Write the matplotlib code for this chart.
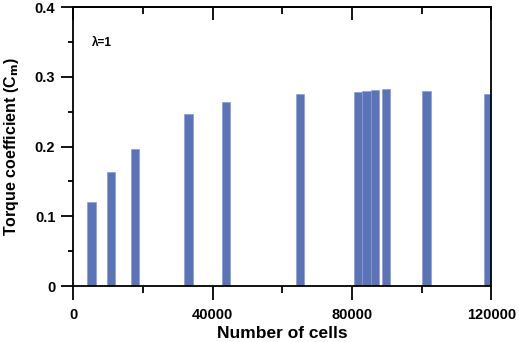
import matplotlib
matplotlib.use("Agg")
from matplotlib import pyplot as plt
from matplotlib.ticker import MultipleLocator

plt.rcParams['font.family'] = ['Liberation Sans', 'DejaVu Sans']
plt.rcParams['font.weight'] = 'bold'

# mesh size vs torque coefficient
cells = [5200, 10900, 17700, 33000, 43900, 65000, 81700, 84100, 86500, 89700, 101400, 119100]
cm = [0.120, 0.163, 0.196, 0.246, 0.264, 0.275, 0.278, 0.279, 0.281, 0.282, 0.279, 0.276]
xticks = [0, 40000, 80000, 120000]
yticks = [0, 0.1, 0.2, 0.3, 0.4]
yticklabels = ['0', '0.1', '0.2', '0.3', '0.4']

fig = plt.figure(figsize=(5.19, 3.42), dpi=100)
ax = fig.add_axes([0.1413, 0.1637, 0.8057, 0.8158])

ax.bar(cells, cm, width=2400, color='#5b74b7', edgecolor='#8b9ccd', linewidth=0.5, zorder=2)

ax.set_xlim(0, 120000)
ax.set_ylim(0, 0.4)
ax.set_xticks(xticks)
ax.set_xticklabels([str(t) for t in xticks])
ax.set_yticks(yticks)
ax.set_yticklabels(yticklabels)
ax.xaxis.set_minor_locator(MultipleLocator(20000))
ax.yaxis.set_minor_locator(MultipleLocator(0.05))

for s in ax.spines.values():
    s.set_linewidth(1.3)

ax.tick_params(axis='x', which='major', direction='out', length=10, width=1.3, labelsize=10.5, pad=6)
ax.tick_params(axis='x', which='minor', direction='out', length=5, width=1.3)
ax.tick_params(axis='y', which='major', direction='out', length=9, width=1.3, labelsize=10.5, pad=4)
ax.tick_params(axis='y', which='minor', direction='out', length=3.6, width=1.3)
for lab in ax.get_xticklabels() + ax.get_yticklabels():
    lab.set_fontweight('bold')

top = ax.secondary_xaxis('top')
top.set_xticks(xticks)
top.xaxis.set_minor_locator(MultipleLocator(20000))
top.tick_params(axis='x', which='major', direction='in', length=9.5, width=1.3, labeltop=False)
top.tick_params(axis='x', which='minor', direction='in', length=4.8, width=1.3)
top.spines['top'].set_linewidth(1.3)

ax.set_xlabel('Number of cells', fontsize=12.5, fontweight='bold', labelpad=3)
ax.set_ylabel('Torque coefficient (C$_\\mathbf{m}$)', fontsize=11.5, fontweight='bold', labelpad=10)
ax.text(5300, 0.3485, 'λ=1', fontsize=8.5, fontweight='bold', va='center', ha='left')

fig.savefig('out.png', dpi=100)
